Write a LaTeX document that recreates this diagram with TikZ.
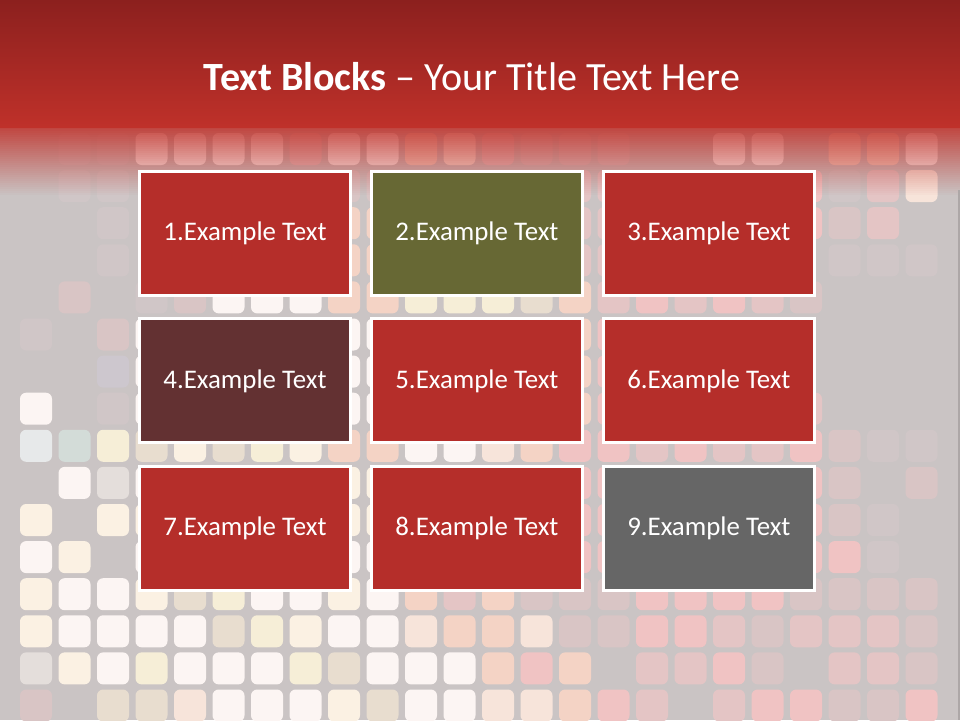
\documentclass[tikz,border=0pt]{standalone}
\usepackage{fontspec}
\setmainfont{Carlito}
\usetikzlibrary{positioning}
\definecolor{BandTop}{HTML}{8C201E}
\definecolor{BandLow}{HTML}{BF312A}
\definecolor{Slate}{HTML}{CAC4C4}
\definecolor{Edge}{HTML}{ADA7A7}
\definecolor{BlockRed}{HTML}{B52E2A}
\definecolor{BlockOlive}{HTML}{676834}
\definecolor{BlockWine}{HTML}{633132}
\definecolor{BlockGray}{HTML}{666666}
\definecolor{Tw}{HTML}{FCF5F3}
\definecolor{Tc}{HTML}{FBF1E3}
\definecolor{Ty}{HTML}{F6EED7}
\definecolor{Tb}{HTML}{E8DDCF}
\definecolor{Te}{HTML}{F7E4DA}
\definecolor{Tp}{HTML}{F4D3C5}
\definecolor{Tk}{HTML}{F0C3C3}
\definecolor{Tm}{HTML}{E4C5C5}
\definecolor{Td}{HTML}{D9C5C5}
\definecolor{Tf}{HTML}{D0C6C7}
\definecolor{Tg}{HTML}{E7E9EA}
\definecolor{Tt}{HTML}{D3DCD8}
\definecolor{Tl}{HTML}{E4DEDB}
\definecolor{Tv}{HTML}{CDC7CE}

\begin{document}
\begin{tikzpicture}[x=0.02cm,y=-0.02cm,
    blockbox/.style={draw=white,line width=1.7pt,minimum width=4.22cm,
      minimum height=2.48cm,inner sep=0pt,text=white,
      font=\fontsize{15.3}{18}\selectfont}]
  \useasboundingbox (0,0) rectangle (960,720);
  \clip (0,0) rectangle (960,720);
  \fill[Slate] (0,0) rectangle (960,720);

  \foreach \r/\cells in {
    0/{1/f,2/f,3/w,4/w,5/w,6/w,7/m,8/w,9/w,10/p,11/e,12/m,13/d,14/d,15/d,18/w,19/w,21/p,22/p,23/w},
    1/{1/f,2/f,8/d,9/d,14/m,15/m,20/k,21/f,22/m,23/e},
    2/{2/f,8/p,9/p,14/m,15/m,20/k,21/d,22/m},
    3/{2/f,8/p,9/p,14/m,15/m,21/f,22/f,23/f},
    4/{1/d,3/f,4/d,5/w,6/w,7/w,8/p,9/p,10/y,11/y,12/y,13/b,14/p,15/m,16/k,17/m,18/k,19/m,20/d},
    5/{0/f,2/d,3/w,8/w,9/w,14/p,15/k},
    6/{2/v,3/w,8/w,9/w,14/p,15/k},
    7/{0/w,2/f,3/w,8/w,9/w,14/p,15/k,20/m},
    8/{0/g,1/t,2/y,3/b,4/c,5/b,6/y,7/c,8/p,9/p,10/w,11/w,12/e,13/p,14/k,15/k,16/m,17/k,18/m,19/m,20/k,21/d,22/f,23/f},
    9/{1/w,2/l,3/w,8/c,9/c,14/k,15/k,20/k,21/d,23/d},
    10/{0/c,2/c,3/c,8/c,9/c,14/k,15/k,20/k,21/d,22/f},
    11/{0/w,1/c,3/w,8/w,9/w,14/k,15/k,20/k,21/k,22/f},
    12/{0/c,1/w,2/w,3/c,4/b,5/y,6/w,7/w,8/c,9/w,10/p,11/m,12/p,13/d,14/d,15/d,16/k,17/k,18/k,19/k,20/d,21/d,22/d,23/d},
    13/{0/c,1/w,2/w,3/w,4/w,5/b,6/y,7/c,8/w,9/w,10/e,11/p,12/p,13/e,14/d,15/d,16/k,17/k,18/m,19/d,20/m,21/m,22/m,23/d},
    14/{0/l,1/c,2/w,3/y,4/w,5/w,6/w,7/y,8/b,9/w,10/w,11/w,12/p,13/k,14/p,16/m,17/m,18/k,19/d,21/m,22/m,23/d},
    15/{0/d,2/b,3/b,4/e,5/w,6/w,7/w,8/c,9/b,10/w,11/w,12/e,13/e,14/p,15/k,16/m,18/m,19/k,20/k,21/d,22/d,23/k}}
    \foreach \c/\k in \cells
      \fill[fill=T\k,rounded corners=3.5pt]
        ({20+38.5*\c},{133+37.1*\r}) rectangle ++(32,32);

  \shade[top color=BandTop,bottom color=BandLow] (0,0) rectangle (960,127);
  \foreach \i in {0,...,33}
    \fill[BandLow,opacity={0.85*(1-\i/34)}]
      (0,{127+2*\i}) rectangle (960,{129+2*\i});
  \fill[Edge] (958,190) rectangle (960,720);

  \node[text=white,font=\fontsize{22.8}{27}\selectfont] (title) at (472,77)
    {\textbf{Text Blocks} – Your Title Text Here};

  \node[blockbox,fill=BlockRed] (b1) at (245,233.5) {1.Example Text};
  \node[blockbox,fill=BlockOlive,right=0.36cm of b1] (b2) {2.Example Text};
  \node[blockbox,fill=BlockRed,right=0.36cm of b2] (b3) {3.Example Text};
  \node[blockbox,fill=BlockWine,below=0.41cm of b1] (b4) {4.Example Text};
  \node[blockbox,fill=BlockRed,below=0.41cm of b2] (b5) {5.Example Text};
  \node[blockbox,fill=BlockRed,below=0.41cm of b3] (b6) {6.Example Text};
  \node[blockbox,fill=BlockRed,below=0.41cm of b4] (b7) {7.Example Text};
  \node[blockbox,fill=BlockRed,below=0.41cm of b5] (b8) {8.Example Text};
  \node[blockbox,fill=BlockGray,below=0.41cm of b6] (b9) {9.Example Text};
\end{tikzpicture}
\end{document}
